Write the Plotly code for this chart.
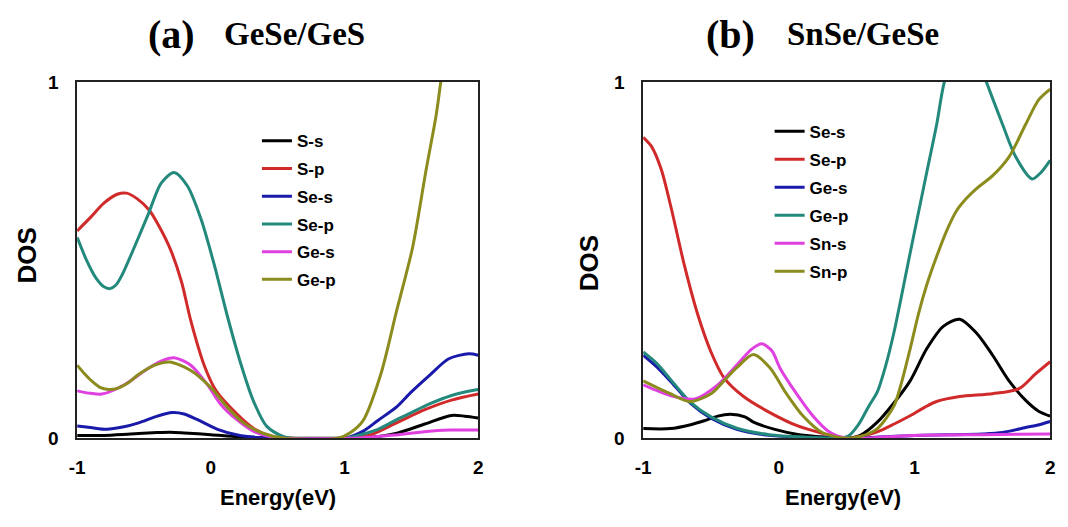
import plotly.graph_objects as go

W, H = 1068, 527

# ---------------- Panel (a): GeSe/GeS ----------------
a_names = ["S-s", "S-p", "Se-s", "Se-p", "Ge-s", "Ge-p"]

a_Ss_E = [-1, -0.8, -0.6, -0.4, -0.3, -0.2, 0, 0.2, 0.4, 0.6, 0.8, 1.0, 1.2, 1.4, 1.6, 1.8, 1.9, 2.0]
a_Ss_V = [0.008, 0.008, 0.012, 0.016, 0.017, 0.015, 0.01, 0.004, 0.001, 0, 0, 0, 0.003, 0.015, 0.04, 0.064, 0.062, 0.057]

a_Sp_E = [-1, -0.9, -0.8, -0.7, -0.63, -0.55, -0.46, -0.38, -0.3, -0.22, -0.15, -0.05, 0.04, 0.19, 0.33, 0.45, 0.6, 1.0, 1.1, 1.2, 1.4, 1.6, 1.8, 2.0]
a_Sp_V = [0.582, 0.62, 0.66, 0.685, 0.688, 0.672, 0.64, 0.59, 0.528, 0.44, 0.33, 0.205, 0.133, 0.07, 0.025, 0.006, 0, 0, 0.002, 0.01, 0.045, 0.08, 0.107, 0.124]

a_Ses_E = [-1, -0.9, -0.78, -0.65, -0.54, -0.4, -0.29, -0.2, -0.1, 0.05, 0.2, 0.35, 0.5, 1.0, 1.14, 1.25, 1.39, 1.5, 1.64, 1.78, 1.93, 2.0]
a_Ses_V = [0.034, 0.03, 0.025, 0.032, 0.043, 0.062, 0.072, 0.068, 0.052, 0.025, 0.009, 0.002, 0, 0, 0.02, 0.05, 0.088, 0.13, 0.178, 0.223, 0.237, 0.233]

a_Sep_E = [-1, -0.93, -0.86, -0.8, -0.754, -0.71, -0.667, -0.569, -0.47, -0.37, -0.274, -0.175, -0.076, 0.022, 0.12, 0.22, 0.317, 0.417, 0.54, 0.6, 1.0, 1.1, 1.25, 1.39, 1.5, 1.64, 1.8, 1.9, 2.0]
a_Sep_V = [0.564, 0.5, 0.45, 0.425, 0.42, 0.43, 0.456, 0.539, 0.627, 0.717, 0.746, 0.708, 0.618, 0.492, 0.348, 0.214, 0.106, 0.034, 0.005, 0, 0, 0.008, 0.025, 0.052, 0.072, 0.097, 0.12, 0.13, 0.137]

a_Ges_E = [-1, -0.9, -0.815, -0.643, -0.47, -0.35, -0.274, -0.15, -0.027, 0.07, 0.195, 0.317, 0.44, 0.55, 1.0, 1.2, 1.4, 1.6, 1.7, 1.8, 2.0]
a_Ges_V = [0.133, 0.126, 0.124, 0.151, 0.196, 0.22, 0.226, 0.205, 0.151, 0.097, 0.052, 0.02, 0.005, 0, 0, 0.003, 0.01, 0.018, 0.022, 0.023, 0.023]

a_Gep_E = [-1, -0.95, -0.89, -0.83, -0.766, -0.7, -0.62, -0.544, -0.42, -0.31, -0.15, 0, 0.12, 0.244, 0.39, 0.55, 0.95, 1.045, 1.14, 1.27, 1.39, 1.51, 1.61, 1.685, 1.72, 1.8]
a_Gep_V = [0.205, 0.183, 0.16, 0.143, 0.137, 0.14, 0.155, 0.178, 0.205, 0.214, 0.19, 0.142, 0.088, 0.043, 0.014, 0, 0, 0.016, 0.05, 0.178, 0.358, 0.537, 0.753, 0.906, 1.0, 1.2]

# ---------------- Panel (b): SnSe/GeSe ----------------
b_names = ["Se-s", "Se-p", "Ge-s", "Ge-p", "Sn-s", "Sn-p"]

b_Ses_E = [-1, -0.8, -0.65, -0.55, -0.45, -0.357, -0.25, -0.187, -0.03, 0.15, 0.35, 0.5, 0.6, 0.726, 0.848, 0.968, 1.09, 1.212, 1.333, 1.455, 1.576, 1.697, 1.818, 1.915, 2.0]
b_Ses_V = [0.027, 0.027, 0.038, 0.049, 0.062, 0.067, 0.06, 0.045, 0.025, 0.01, 0.003, 0, 0.008, 0.045, 0.099, 0.161, 0.251, 0.314, 0.334, 0.296, 0.233, 0.161, 0.107, 0.076, 0.062]

b_Sep_E = [-1, -0.94, -0.867, -0.794, -0.696, -0.6, -0.5, -0.405, -0.26, -0.066, 0.13, 0.32, 0.5, 0.6, 0.726, 0.85, 0.968, 1.08, 1.163, 1.333, 1.576, 1.77, 1.89, 2.0]
b_Sep_V = [0.845, 0.82, 0.755, 0.647, 0.485, 0.35, 0.242, 0.17, 0.117, 0.072, 0.036, 0.014, 0, 0.005, 0.018, 0.04, 0.063, 0.088, 0.103, 0.117, 0.125, 0.139, 0.18, 0.215]

b_Ges_E = [-1, -0.9, -0.794, -0.648, -0.5, -0.31, -0.07, 0.2, 0.5, 1.0, 1.5, 1.65, 1.82, 1.92, 2.0]
b_Ges_V = [0.233, 0.2, 0.158, 0.097, 0.056, 0.025, 0.008, 0.002, 0, 0.008, 0.012, 0.016, 0.03, 0.038, 0.047]

b_Gep_E = [-1, -0.9, -0.794, -0.648, -0.5, -0.31, -0.07, 0.2, 0.4, 0.508, 0.59, 0.663, 0.726, 0.785, 0.848, 0.968, 1.09, 1.163, 1.22, 1.3, 1.38, 1.46, 1.53, 1.65, 1.746, 1.867, 1.93, 2.0]
b_Gep_V = [0.242, 0.21, 0.163, 0.1, 0.06, 0.028, 0.01, 0.003, 0.001, 0.005, 0.04, 0.09, 0.13, 0.2, 0.296, 0.52, 0.746, 0.88, 1.0, 1.08, 1.1, 1.07, 1.0, 0.88, 0.79, 0.728, 0.745, 0.78]

b_Sns_E = [-1, -0.8, -0.62, -0.45, -0.3, -0.2, -0.126, -0.05, 0.007, 0.13, 0.25, 0.37, 0.5, 0.8, 1.0, 1.5, 2.0]
b_Sns_V = [0.15, 0.12, 0.11, 0.15, 0.21, 0.25, 0.265, 0.245, 0.198, 0.125, 0.063, 0.018, 0, 0.004, 0.008, 0.01, 0.012]

b_Snp_E = [-1, -0.8, -0.66, -0.5, -0.405, -0.31, -0.187, -0.066, 0.056, 0.177, 0.32, 0.5, 0.6, 0.726, 0.848, 0.9, 0.968, 1.03, 1.09, 1.163, 1.24, 1.309, 1.38, 1.455, 1.576, 1.697, 1.818, 1.915, 2.0]
b_Snp_V = [0.161, 0.125, 0.103, 0.125, 0.161, 0.198, 0.235, 0.198, 0.125, 0.063, 0.016, 0, 0.005, 0.027, 0.09, 0.15, 0.251, 0.35, 0.43, 0.51, 0.585, 0.638, 0.672, 0.7, 0.737, 0.79, 0.88, 0.95, 0.98]

colors = ["#000000", "#D02A2A", "#1A1AAA", "#23897C", "#E040E0", "#8C8C1E"]

x_ticks = [-1, -0.5, 0, 0.5, 1, 1.5, 2]
x_ticktext = ["-1", "", "0", "", "1", "", "2"]
y_ticks = [0, 0.5, 1]
y_ticktext = ["0", "", "1"]

a_series = [(a_Ss_E, a_Ss_V), (a_Sp_E, a_Sp_V), (a_Ses_E, a_Ses_V),
            (a_Sep_E, a_Sep_V), (a_Ges_E, a_Ges_V), (a_Gep_E, a_Gep_V)]
b_series = [(b_Ses_E, b_Ses_V), (b_Sep_E, b_Sep_V), (b_Ges_E, b_Ges_V),
            (b_Gep_E, b_Gep_V), (b_Sns_E, b_Sns_V), (b_Snp_E, b_Snp_V)]

fig = go.Figure()
for i, (name, (e, v)) in enumerate(zip(a_names, a_series)):
    fig.add_trace(go.Scatter(x=e, y=v, name=name, mode="lines",
                             line=dict(color=colors[i], width=3, shape="spline", smoothing=0.8),
                             xaxis="x", yaxis="y", legend="legend",
                             legendgroup="a%d" % i))
for i, (name, (e, v)) in enumerate(zip(b_names, b_series)):
    fig.add_trace(go.Scatter(x=e, y=v, name=name, mode="lines",
                             line=dict(color=colors[i], width=3, shape="spline", smoothing=0.8),
                             xaxis="x2", yaxis="y2", legend="legend2",
                             legendgroup="b%d" % i))

def px(x):
    return x / W

def py(y):
    return 1 - y / H

tickfont = dict(family="Liberation Sans, Arial", size=19, color="#000", weight="bold")
# main axes: labels pushed away by transparent outside ticks
label_axis = dict(showline=True, linecolor="#222", linewidth=1.5, mirror=True,
                  ticks="outside", tickcolor="rgba(0,0,0,0)",
                  showgrid=False, zeroline=False, tickfont=tickfont)
# overlay axes: visible inside tick marks only
tick_axis = dict(showline=False, showgrid=False, zeroline=False, showticklabels=False,
                 ticks="inside", ticklen=6, tickwidth=1, tickcolor="#222")

xa_dom = [px(70), px(476)]
xb_dom = [px(643), px(1055)]
ydom = [py(446), py(75)]
fig.update_layout(
    width=W, height=H,
    margin=dict(l=0, r=0, t=0, b=0),
    paper_bgcolor="white", plot_bgcolor="white",
    showlegend=True,
    xaxis=dict(domain=xa_dom, range=[-1, 2], anchor="y", ticklen=11,
               tickmode="array", tickvals=x_ticks, ticktext=x_ticktext, **label_axis),
    yaxis=dict(domain=ydom, range=[0, 1], anchor="x", ticklen=13,
               tickmode="array", tickvals=y_ticks, ticktext=y_ticktext, **label_axis),
    xaxis2=dict(domain=xb_dom, range=[-1, 2], anchor="y2", ticklen=11,
                tickmode="array", tickvals=x_ticks, ticktext=x_ticktext, **label_axis),
    yaxis2=dict(domain=ydom, range=[0, 1], anchor="x2", ticklen=13,
                tickmode="array", tickvals=y_ticks, ticktext=y_ticktext, **label_axis),
    xaxis3=dict(domain=xa_dom, range=[-1, 2], anchor="y", overlaying="x", side="bottom",
                tickmode="array", tickvals=x_ticks, **tick_axis),
    yaxis3=dict(domain=ydom, range=[0, 1], anchor="x", overlaying="y", side="left",
                tickmode="array", tickvals=y_ticks, **tick_axis),
    xaxis4=dict(domain=xb_dom, range=[-1, 2], anchor="y2", overlaying="x2", side="bottom",
                tickmode="array", tickvals=x_ticks, **tick_axis),
    yaxis4=dict(domain=ydom, range=[0, 1], anchor="x2", overlaying="y2", side="left",
                tickmode="array", tickvals=y_ticks, **tick_axis),
    legend=dict(x=px(252), y=py(118), xanchor="left", yanchor="top",
                bgcolor="rgba(0,0,0,0)", borderwidth=0,
                traceorder="grouped", tracegroupgap=2.6,
                font=dict(family="Liberation Sans, Arial", size=17, color="#000", weight="bold")),
    legend2=dict(x=px(771), y=py(108), xanchor="left", yanchor="top",
                 bgcolor="rgba(0,0,0,0)", borderwidth=0,
                 traceorder="grouped", tracegroupgap=2.9,
                 font=dict(family="Liberation Sans, Arial", size=17, color="#000", weight="bold")),
)

ann = []
titlefont_big = dict(family="Liberation Serif, Times New Roman", size=40, color="#000", weight="bold")
titlefont_sm = dict(family="Liberation Serif, Times New Roman", size=33, color="#000", weight="bold")
for text, x, font in [("(a)", 166, titlefont_big), ("GeSe/GeS", 290, titlefont_sm),
                      ("(b)", 731, titlefont_big), ("SnSe/GeSe", 866, titlefont_sm)]:
    ann.append(dict(text=text, x=px(x), y=py(25), xref="paper", yref="paper",
                    xanchor="center", yanchor="middle", showarrow=False, font=font))
labfont = dict(family="Liberation Sans, Arial", size=26, color="#000", weight="bold")
for x, y in [(19, 256), (589, 264)]:
    ann.append(dict(text="DOS", x=px(x), y=py(y), xref="paper", yref="paper",
                    xanchor="center", yanchor="middle", textangle=-90, showarrow=False, font=labfont))
efont = dict(family="Liberation Sans, Arial", size=22, color="#000", weight="bold")
for x in [273, 845]:
    ann.append(dict(text="Energy(eV)", x=px(x), y=py(508), xref="paper", yref="paper",
                    xanchor="center", yanchor="middle", showarrow=False, font=efont))
fig.update_layout(annotations=ann)

fig.write_html("out.html")
